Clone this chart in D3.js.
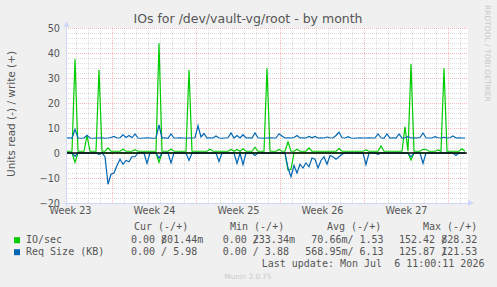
<!DOCTYPE html>
<html lang="en">
<head>
<meta charset="UTF-8"/>
<title>IOs for /dev/vault-vg/root - by month</title>
<script src="https://d3js.org/d3.v7.min.js"></script>
<style>
	body { margin: 0; background: #f0f0f0; }
	svg { display: block; }
	text { font-family: "DejaVu Sans", sans-serif; }
	.mono { font-family: "DejaVu Sans Mono", monospace; font-size: 10px; fill: #555; white-space: pre; }
</style>
</head>
<body>
<script>

	// one sample every 6 hours (0.25 day), read is drawn below zero
	var step = 0.25;

	var ioWrite = [
		0.7,0.7,0.7,37.5,0.7,0.7,0.7,7,0.7,0.7,
		0.7,33.2,0.7,0.7,2,0.7,0.7,0.7,0.7,1.5,
		0.7,0.7,0.7,1.3,0.7,0.7,0.7,0.7,0.7,0.7,
		0.7,43.9,0.7,0.7,0.7,1.5,0.7,0.7,0.7,0.7,
		0.7,33.2,0.7,0.7,0.7,0.7,0.7,0.7,1.5,0.7,
		0.7,0.7,0.7,0.7,0.7,1.4,0.7,1.4,0.7,1.7,
		0.7,0.7,0.7,2.3,0.7,0.7,0.7,33.9,0.7,0.7,
		0.7,1.4,0.7,0.7,4.4,0.7,0.7,1.5,0.7,0.7,
		0.7,2,0.7,0.7,0.7,0.7,0.7,0.7,0.7,0.7,
		0.7,1.8,0.7,0.7,0.7,0.7,0.7,0.7,0.7,0.7,
		1.2,0.7,0.7,0.7,0.7,2.8,0.7,0.7,0.7,0.7,
		0.7,0.7,0.7,10.5,0.7,35.6,0.7,0.7,0.7,1.5,
		1.4,0.7,0.7,0.7,1.2,0.7,33.9,0.7,0.7,0.7,
		0.7,0.7,1.7,0.7
	];
	var ioRead = [
		0,0,0,3.7,0,0,0,0,0,0,
		0,0,0,0,0,0,0,0,0,0,
		0,0,0,0,0,0,0,0,0,0,
		0,3.7,0,0,0,0,0,0,0,0,
		0,0,0,0,0,0,0,0,0,0,
		0,0,0,0,0,0,0,0,0,0,
		0,0,0,0,0,0,0,0,0,0,
		0,0,0,0,6.8,6.5,0,0,0,0,
		0,0,0,0,0,0,0,0,0,0,
		0,0,0,0,0,0,0,0,0,0,
		0,0,0,0,0,0,0,0,0,0,
		0,0,0,0,0,2.8,0,0,0,0,
		0,0,0,0,0,0,0,0,0,0,
		0,0,0,0
	];
	var reqWrite = [
		6.0,6.1,5.9,9.5,6.0,5.9,6.0,7.1,6.0,5.9,
		6.0,6.0,6.1,5.9,6.0,6.2,6.6,6.0,6.1,7.3,
		6.2,7.0,6.1,7.6,6.0,5.9,6.0,6.1,6.0,5.9,
		6.0,11.2,6.0,6.1,5.9,7.6,6.0,6.0,6.1,6.0,
		5.9,6.0,6.0,6.1,10.9,6.4,7.8,6.0,6.1,6.0,
		6.8,6.0,5.9,6.0,6.1,8.0,6.0,7.0,6.0,7.3,
		6.0,6.1,6.0,8.0,6.1,6.0,5.9,6.0,6.1,6.0,
		6.0,7.7,6.8,6.0,6.1,6.0,6.2,7.0,6.0,6.1,
		6.0,6.6,6.1,6.6,6.0,6.1,6.0,6.4,6.1,6.0,
		7.0,8.3,6.1,6.0,6.5,6.0,5.9,6.0,6.1,6.0,
		6.0,6.1,6.0,6.0,7.6,6.1,6.0,7.6,6.0,6.1,
		6.0,7.6,6.0,6.1,6.5,6.0,6.1,6.0,6.2,8.0,
		6.1,6.0,6.0,6.5,6.1,6.0,6.3,6.0,6.1,6.8,
		6.0,6.1,6.0,6.0
	];
	var reqRead = [
		0,0,0,1.3,0,0,0,0,0,0,
		0,0.5,0,1.5,12.5,8.5,8,5,2.5,4.5,
		3,3.5,1.5,1.5,0,0,0,4.1,0,0,
		0,2,0,0,0,4,0,0,0,0,
		0,3,0,0,0,0,0,0,0,0,
		0,3.4,0,0,0,0,0,4.1,0,4.6,
		0,0,0,1,0,0,0,0,0,0,
		0,0,0,0,6,9.5,5,8,4.5,6,
		4,5.5,2,2.5,6,3,1.5,4.5,1,1.5,
		2.5,1.5,0.5,0,0,0,0,0,0,0,
		4.6,0,0,0,0.5,0,0,0,0,0,
		0,0,0,0,0,1.5,0,0,0,4.1,
		0,0,0,0,0,0,0,0,0,0,
		1,0,0,0
	];

	// x axis: days since the left edge of the graph
	var weekLabels = ["Week 23", "Week 24", "Week 25", "Week 26", "Week 27"];
	var weekStarts = [3.833, 10.833, 17.833, 24.833, 31.833];
	var yTicks = [-20, -10, 0, 10, 20, 30, 40, 50];

	// legend
	var seriesNames = ["IO/sec", "Req Size (KB)"];
	var seriesColors = ["#00cc00", "#0066b3"];
	var curRead = ["0.00", "0.00"],    curWrite = ["801.44m", "5.98"];
	var minRead = ["0.00", "0.00"],    minWrite = ["233.34m", "3.88"];
	var avgRead = ["70.66m", "568.95m"], avgWrite = ["1.53", "6.13"];
	var maxRead = ["152.42", "125.87"], maxWrite = ["828.32", "121.53"];

	var w = 497, h = 287;
	var plotL = 66, plotR = 468, plotT = 28, plotB = 203;

	var xScale = d3.scaleLinear().domain([0, 33.5]).range([plotL, plotR]);
	var yScale = d3.scaleLinear().domain([-20, 50]).range([plotB, plotT]);

	var svg = d3.select("body").append("svg")
		.attr("width", w)
		.attr("height", h);

	svg.append("rect").attr("width", w).attr("height", h).attr("fill", "#f0f0f0");
	svg.append("rect")
		.attr("x", plotL).attr("y", plotT)
		.attr("width", plotR - plotL).attr("height", plotB - plotT)
		.attr("fill", "#ffffff");

	//minor grid: every 2 units and every day
	var minorY = d3.range(-20, 51, 2).filter(function(v){ return v % 10 != 0; });
	var minorX = d3.range(0.833, 33.5, 1).filter(function(d){
		return !weekStarts.some(function(s){ return Math.abs(s - d) < 0.01; });
	});
	var minorColor = "rgba(150,150,150,0.32)";
	var majorColor = "rgba(230,90,90,0.42)";
	var grid = svg.append("g").attr("shape-rendering", "crispEdges");
	grid.selectAll(".minh").data(minorY).enter().append("line")
		.attr("x1", plotL).attr("x2", plotR)
		.attr("y1", function(d){ return Math.round(yScale(d)) + 0.5; })
		.attr("y2", function(d){ return Math.round(yScale(d)) + 0.5; })
		.attr("stroke", minorColor).attr("stroke-dasharray", "1,1");
	grid.selectAll(".minv").data(minorX).enter().append("line")
		.attr("y1", plotT).attr("y2", plotB)
		.attr("x1", function(d){ return Math.round(xScale(d)) + 0.5; })
		.attr("x2", function(d){ return Math.round(xScale(d)) + 0.5; })
		.attr("stroke", minorColor).attr("stroke-dasharray", "1,1");
	//major grid in red
	grid.selectAll(".majh").data(yTicks).enter().append("line")
		.attr("x1", plotL).attr("x2", plotR)
		.attr("y1", function(d){ return Math.round(yScale(d)) + 0.5; })
		.attr("y2", function(d){ return Math.round(yScale(d)) + 0.5; })
		.attr("stroke", majorColor).attr("stroke-dasharray", "1,1");
	grid.selectAll(".majv").data(weekStarts).enter().append("line")
		.attr("y1", plotT).attr("y2", plotB)
		.attr("x1", function(d){ return Math.round(xScale(d)) + 0.5; })
		.attr("x2", function(d){ return Math.round(xScale(d)) + 0.5; })
		.attr("stroke", majorColor).attr("stroke-dasharray", "1,1");

	//lines
	function drawSeries(data, sign, color) {
		var line = d3.line()
			.x(function(d, i){ return xScale(i * step); })
			.y(function(d){ return yScale(sign * d); });
		svg.append("path")
			.datum(data)
			.attr("d", line)
			.attr("fill", "none")
			.attr("stroke", color)
			.attr("stroke-width", 1.2);
	}
	drawSeries(ioRead, -1, seriesColors[0]);
	drawSeries(ioWrite, 1, seriesColors[0]);
	drawSeries(reqRead, -1, seriesColors[1]);
	drawSeries(reqWrite, 1, seriesColors[1]);

	//zero line
	svg.append("line")
		.attr("x1", plotL).attr("x2", xScale(33.4))
		.attr("y1", yScale(0)).attr("y2", yScale(0))
		.attr("stroke", "#000").attr("stroke-width", 1.6);

	//axes lines and arrows
	var axisColor = "#cfd6f8";
	svg.append("line").attr("x1", plotL + 0.5).attr("x2", plotL + 0.5)
		.attr("y1", plotB + 3).attr("y2", plotT - 3).attr("stroke", axisColor);
	svg.append("line").attr("x1", plotL - 3).attr("x2", plotR + 2)
		.attr("y1", plotB + 0.5).attr("y2", plotB + 0.5).attr("stroke", axisColor);
	svg.append("path").attr("d", "M63.5,27 L69.5,27 L66.5,21 Z").attr("fill", axisColor);
	svg.append("path").attr("d", "M468,200 L468,206 L474,203 Z").attr("fill", axisColor);

	//tick labels
	var yAxis = d3.axisLeft(yScale).tickValues(yTicks).tickSize(0).tickPadding(6);
	var gy = svg.append("g").attr("transform", "translate(" + plotL + ",0)").call(yAxis);
	gy.select(".domain").remove();
	gy.selectAll("text").attr("font-size", "9.7px").attr("fill", "#555")
		.attr("font-family", "DejaVu Sans");

	var xAxis = d3.axisBottom(xScale)
		.tickValues(weekStarts.map(function(d){ return d - 3.5; }))
		.tickFormat(function(d, i){ return weekLabels[i]; })
		.tickSize(0).tickPadding(4.5);
	var gx = svg.append("g").attr("transform", "translate(0," + plotB + ")").call(xAxis);
	gx.select(".domain").remove();
	gx.selectAll("text").attr("font-size", "9.7px").attr("fill", "#555")
		.attr("font-family", "DejaVu Sans");

	//title and labels
	svg.append("text")
		.attr("x", 248).attr("y", 22.5)
		.attr("text-anchor", "middle")
		.attr("font-size", "12.5px").attr("fill", "#555")
		.text("IOs for /dev/vault-vg/root - by month");

	svg.append("text")
		.attr("transform", "translate(15,114) rotate(-90)")
		.attr("text-anchor", "middle")
		.attr("font-size", "10.5px").attr("fill", "#555")
		.text("Units read (-) / write (+)");

	svg.append("text")
		.attr("transform", "translate(485,5) rotate(90)")
		.attr("font-size", "7.5px").attr("fill", "#c8c8c8")
		.text("RRDTOOL / TOBI OETIKER");

	//legend
	var cw = 6.02;
	var rowY = [242.7, 254.7];
	var heads = [["Cur (-/+)", 134], ["Min (-/+)", 230], ["Avg (-/+)", 327], ["Max (-/+)", 423]];
	heads.forEach(function(hd){
		svg.append("text").attr("class", "mono").attr("x", hd[1]).attr("y", 230.3).text(hd[0]);
	});

	function cell(x, y, s) {
		svg.append("text").attr("class", "mono").attr("x", x).attr("y", y).text(s);
	}

	seriesNames.forEach(function(name, i){
		var y = rowY[i];
		svg.append("rect").attr("x", 14).attr("y", y - 5.5).attr("width", 6).attr("height", 6)
			.attr("fill", seriesColors[i]);
		cell(26, y, name);
		// cur
		cell(131, y, curRead[i].padStart(4) + " /");
		cell(131 + 5 * cw, y, curWrite[i].padStart(6));
		// min
		cell(222.7, y, minRead[i].padStart(4) + " /");
		cell(222.7 + 5 * cw, y, minWrite[i].padStart(6));
		// avg
		cell(305.3, y, avgRead[i].padStart(7) + "/");
		cell(305.3 + 8 * cw, y, avgWrite[i].padStart(5));
		// max
		cell(399, y, maxRead[i].padStart(6) + " /");
		cell(399 + 7 * cw, y, maxWrite[i].padStart(6));
	});

	cell(261.7, 266.5, "Last update: Mon Jul  6 11:00:11 2026");

	svg.append("text")
		.attr("x", 248).attr("y", 279)
		.attr("text-anchor", "middle")
		.attr("font-size", "7.2px").attr("fill", "#c8c8c8")
		.text("Munin 2.0.75");

</script>
</body>
</html>
